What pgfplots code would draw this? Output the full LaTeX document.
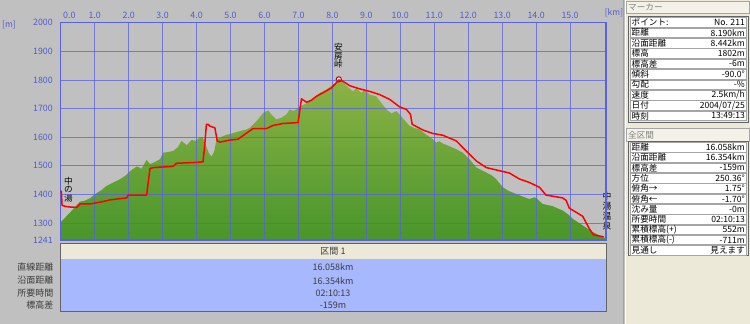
\documentclass[border=0pt]{standalone}
\usepackage{fontspec}
\setmainfont{Noto Sans CJK JP}
\usepackage{pgfplots}
\pgfplotsset{compat=1.18}
\definecolor{outergray}{RGB}{192,192,192}
\definecolor{plotbg}{RGB}{220,220,220}
\definecolor{gridblue}{RGB}{88,98,222}
\definecolor{tickblue}{RGB}{80,92,205}
\definecolor{greentop}{RGB}{140,178,70}
\definecolor{greenbot}{RGB}{72,150,42}
\definecolor{cream}{RGB}{236,233,216}
\definecolor{tblue}{RGB}{168,184,255}
\definecolor{panelline}{RGB}{165,165,165}
\definecolor{darkline}{RGB}{100,100,100}
\definecolor{labgray}{RGB}{60,60,60}

\newcommand{\prow}[3]{%
  \filldraw[fill=white, draw=panelline, line width=0.6pt] (630,#1-4.8) rectangle (746.5,#1+4.8);
  \node[anchor=west, inner sep=0] at (631.5,#1) {#2};
  \node[anchor=east, inner sep=0] at (745,#1) {#3};}

\begin{document}
\begin{tikzpicture}
\fill[outergray] (0,0) rectangle (750pt,324pt);
\begin{scope}[x=1pt, y=-1pt, yshift=324pt]
  % right panel
  \fill[cream] (625,0) rectangle (750,324);
  \draw[darkline!60, line width=1pt] (623.5,0) -- (623.5,324);
  \draw[white, line width=0.8pt] (625.2,0) -- (625.2,324);
  % bottom bar and table
  \filldraw[fill=cream, draw=darkline, line width=0.8pt] (60.7,243.5) rectangle (606,259);
  \fill[tblue] (60.7,259.5) rectangle (606,311.7);
  \draw[darkline, line width=1pt] (60.7,259.5) -- (60.7,311.7) -- (606,311.7) -- (606,259.5);
\end{scope}

\begin{axis}[
  at={(60.7pt,84pt)}, anchor=south west,
  width=545.3pt, height=217.3pt, scale only axis,
  xmin=0, xmax=16.058, ymin=1241, ymax=2000,
  axis background/.style={fill=plotbg},
  set layers, axis on top, clip=false,
  xtick={0,1,...,15},
  xticklabels={\makebox[0pt][l]{\hspace{2.5pt}0.0},1.0,2.0,3.0,4.0,5.0,6.0,7.0,8.0,9.0,10.0,11.0,12.0,13.0,14.0,15.0},
  xticklabel pos=upper,
  ytick={1241,1300,1400,1500,1600,1700,1800,1900,2000},
  grid=major,
  major grid style={gridblue, line width=0.8pt, opacity=0.75},
  major tick length=0pt,
  axis line style={gridblue, line width=1.4pt},
  tick label style={font=\fontsize{8.8}{10}\selectfont, text=tickblue},
  xticklabel style={yshift=0.5pt},
  yticklabel style={xshift=-4.5pt},
  /pgf/number format/assume math mode=true,
  /pgf/number format/1000 sep={},
]
% terrain profile
\addplot[draw=none, top color=greentop, bottom color=greenbot] coordinates {
(0,1241) (0,1303) (0.10,1315) (0.20,1328) (0.30,1340) (0.45,1360) (0.57,1375)
(0.70,1378) (0.85,1386) (1.06,1405) (1.20,1415) (1.35,1430) (1.55,1442)
(1.74,1453) (1.90,1465) (2.04,1481) (2.24,1498) (2.32,1494) (2.38,1490)
(2.53,1521) (2.63,1506) (2.75,1512) (2.92,1523) (3.02,1546) (3.15,1548)
(3.31,1552) (3.45,1565) (3.56,1587) (3.71,1572) (3.85,1590) (3.98,1588)
(4.05,1595) (4.12,1600) (4.19,1598) (4.26,1575) (4.36,1545) (4.44,1532)
(4.52,1550) (4.59,1593) (4.69,1598) (4.80,1605) (4.93,1610) (5.10,1615)
(5.27,1621) (5.47,1627) (5.57,1633) (5.70,1648) (5.81,1662) (5.96,1685)
(6.11,1694) (6.20,1680) (6.35,1662) (6.50,1668) (6.65,1680) (6.74,1697)
(6.85,1692) (6.94,1697) (7.04,1708) (7.20,1716) (7.33,1726) (7.48,1737)
(7.63,1755) (7.82,1766) (8.02,1784) (8.12,1790) (8.26,1797) (8.41,1780)
(8.61,1760) (8.71,1772) (8.85,1755) (8.95,1766) (9.10,1749) (9.29,1743)
(9.44,1720) (9.59,1697) (9.74,1683) (9.88,1691) (9.98,1680) (10.12,1660)
(10.27,1640) (10.42,1632) (10.57,1627) (10.75,1610) (10.96,1593) (11.06,1581)
(11.15,1586) (11.25,1578) (11.44,1569) (11.65,1558) (11.84,1546) (12.04,1523)
(12.24,1494) (12.40,1485) (12.53,1477) (12.70,1466) (12.82,1454) (13.02,1425)
(13.20,1412) (13.41,1402) (13.60,1393) (13.80,1384) (13.95,1390) (14.00,1388)
(14.19,1367) (14.49,1359) (14.78,1344) (14.95,1330) (15.08,1315) (15.37,1292)
(15.66,1269) (15.95,1252) (16.058,1246) (16.058,1241)
};
% route
\addplot[red, line width=1.5pt, line join=round, on layer=axis foreground] coordinates {
(0.00,1413) (0.02,1410) (0.04,1362) (0.15,1358) (0.30,1356) (0.47,1355)
(0.57,1367) (0.86,1367) (1.16,1373) (1.45,1381) (1.65,1384) (1.94,1388)
(1.99,1398) (2.53,1398) (2.63,1491) (2.73,1494) (3.31,1498) (3.41,1509)
(4.00,1512) (4.19,1514) (4.24,1569) (4.29,1645) (4.34,1645) (4.39,1639)
(4.54,1633) (4.61,1587) (4.69,1583) (4.98,1590) (5.22,1593) (5.42,1610)
(5.66,1630) (6.06,1630) (6.25,1641) (6.55,1648) (6.99,1651) (7.09,1734)
(7.24,1722) (7.38,1729) (7.53,1743) (7.72,1755) (7.97,1772) (8.07,1784)
(8.19,1800) (8.30,1796) (8.51,1780) (8.80,1769) (9.10,1760) (9.39,1749)
(9.69,1732) (9.98,1706) (10.18,1697) (10.30,1680) (10.35,1645) (10.67,1625)
(10.96,1613) (11.25,1607) (11.65,1587) (11.94,1552) (12.24,1517) (12.53,1494)
(12.92,1483) (13.21,1475) (13.51,1454) (13.80,1442) (14.10,1425) (14.29,1398)
(14.78,1388) (14.88,1380) (14.98,1352) (15.37,1324) (15.57,1280) (15.69,1259)
(15.99,1252)
};
% marker at the summit
\addplot[only marks, mark=*, mark size=2.6pt, mark options={fill=white, draw=red!70!black, line width=1pt}, on layer=axis foreground] coordinates {(8.19,1802)};
\end{axis}

\begin{scope}[x=1pt, y=-1pt, yshift=324pt]
  \node[text=tickblue, font=\fontsize{8.5}{10}\selectfont, inner sep=0] at (9,25) {[m]};
  \node[text=tickblue, font=\fontsize{8.5}{10}\selectfont, inner sep=0] at (614,13.3) {[km]};
  % place names
  \node[align=center, font=\fontsize{8.6}{8.6}\selectfont, inner sep=0, text=black] at (68.5,189.5) {中\\の\\湯};
  \node[align=center, font=\fontsize{8.6}{8.6}\selectfont, inner sep=0, text=black] at (338.3,56) {安\\房\\峠};
  \node[align=center, font=\fontsize{8.8}{9.8}\selectfont, inner sep=0, text=black] at (607,211) {中\\湯\\温\\泉};
  % bottom table
  \node[font=\fontsize{9}{10}\selectfont, inner sep=0, text=labgray] at (333,251.2) {区間 1};
  \begin{scope}[font=\fontsize{9}{10}\selectfont, text=labgray]
    \node[anchor=east, inner sep=0] at (53.5,267) {直線距離};
    \node[anchor=east, inner sep=0] at (53.5,280.5) {沿面距離};
    \node[anchor=east, inner sep=0] at (53.5,293.3) {所要時間};
    \node[anchor=east, inner sep=0] at (53.5,305.5) {標高差};
    \node[inner sep=0] at (333,267) {16.058km};
    \node[inner sep=0] at (333,280.5) {16.354km};
    \node[inner sep=0] at (333,293.3) {02:10:13};
    \node[inner sep=0] at (333,305.5) {-159m};
  \end{scope}
  % right panel headers
  \filldraw[fill=cream!60!white, draw=panelline, line width=0.6pt] (626,1) rectangle (749.5,13.5);
  \node[anchor=west, inner sep=0, text=gray, font=\fontsize{8.6}{10}\selectfont] at (628,7.3) {マーカー};
  \filldraw[fill=cream!60!white, draw=panelline, line width=0.6pt] (626,128.5) rectangle (749.5,141);
  \node[anchor=west, inner sep=0, text=gray, font=\fontsize{8.6}{10}\selectfont] at (628,134.8) {全区間};
  \draw[darkline, line width=0.7pt] (628.5,16.5) rectangle (748,122);
  \draw[darkline, line width=0.7pt] (628.5,141.8) rectangle (748,255.3);
  \begin{scope}[font=\fontsize{8.6}{10}\selectfont, text=black]
    \prow{22.3}{ポイント:}{No. 211}
    \prow{32.7}{距離}{8.190km}
    \prow{43.1}{沿面距離}{8.442km}
    \prow{53.5}{標高}{1802m}
    \prow{63.9}{標高差}{-6m}
    \prow{74.3}{傾斜}{-90.0°}
    \prow{84.7}{勾配}{-\%}
    \prow{95.1}{速度}{2.5km/h}
    \prow{105.5}{日付}{2004/07/25}
    \prow{115.9}{時刻}{13:49:13}
    \prow{147.3}{距離}{16.058km}
    \prow{157.6}{沿面距離}{16.354km}
    \prow{167.9}{標高差}{-159m}
    \prow{178.2}{方位}{250.36°}
    \prow{188.5}{俯角→}{1.75°}
    \prow{198.8}{俯角←}{-1.70°}
    \prow{209.1}{沈み量}{-0m}
    \prow{219.4}{所要時間}{02:10:13}
    \prow{229.7}{累積標高(+)}{552m}
    \prow{240.0}{累積標高(-)}{-711m}
    \prow{250.3}{見通し}{見えます}
  \end{scope}
\end{scope}
\pgfresetboundingbox
\path (0,0) rectangle (750pt,324pt);
\end{tikzpicture}
\end{document}
